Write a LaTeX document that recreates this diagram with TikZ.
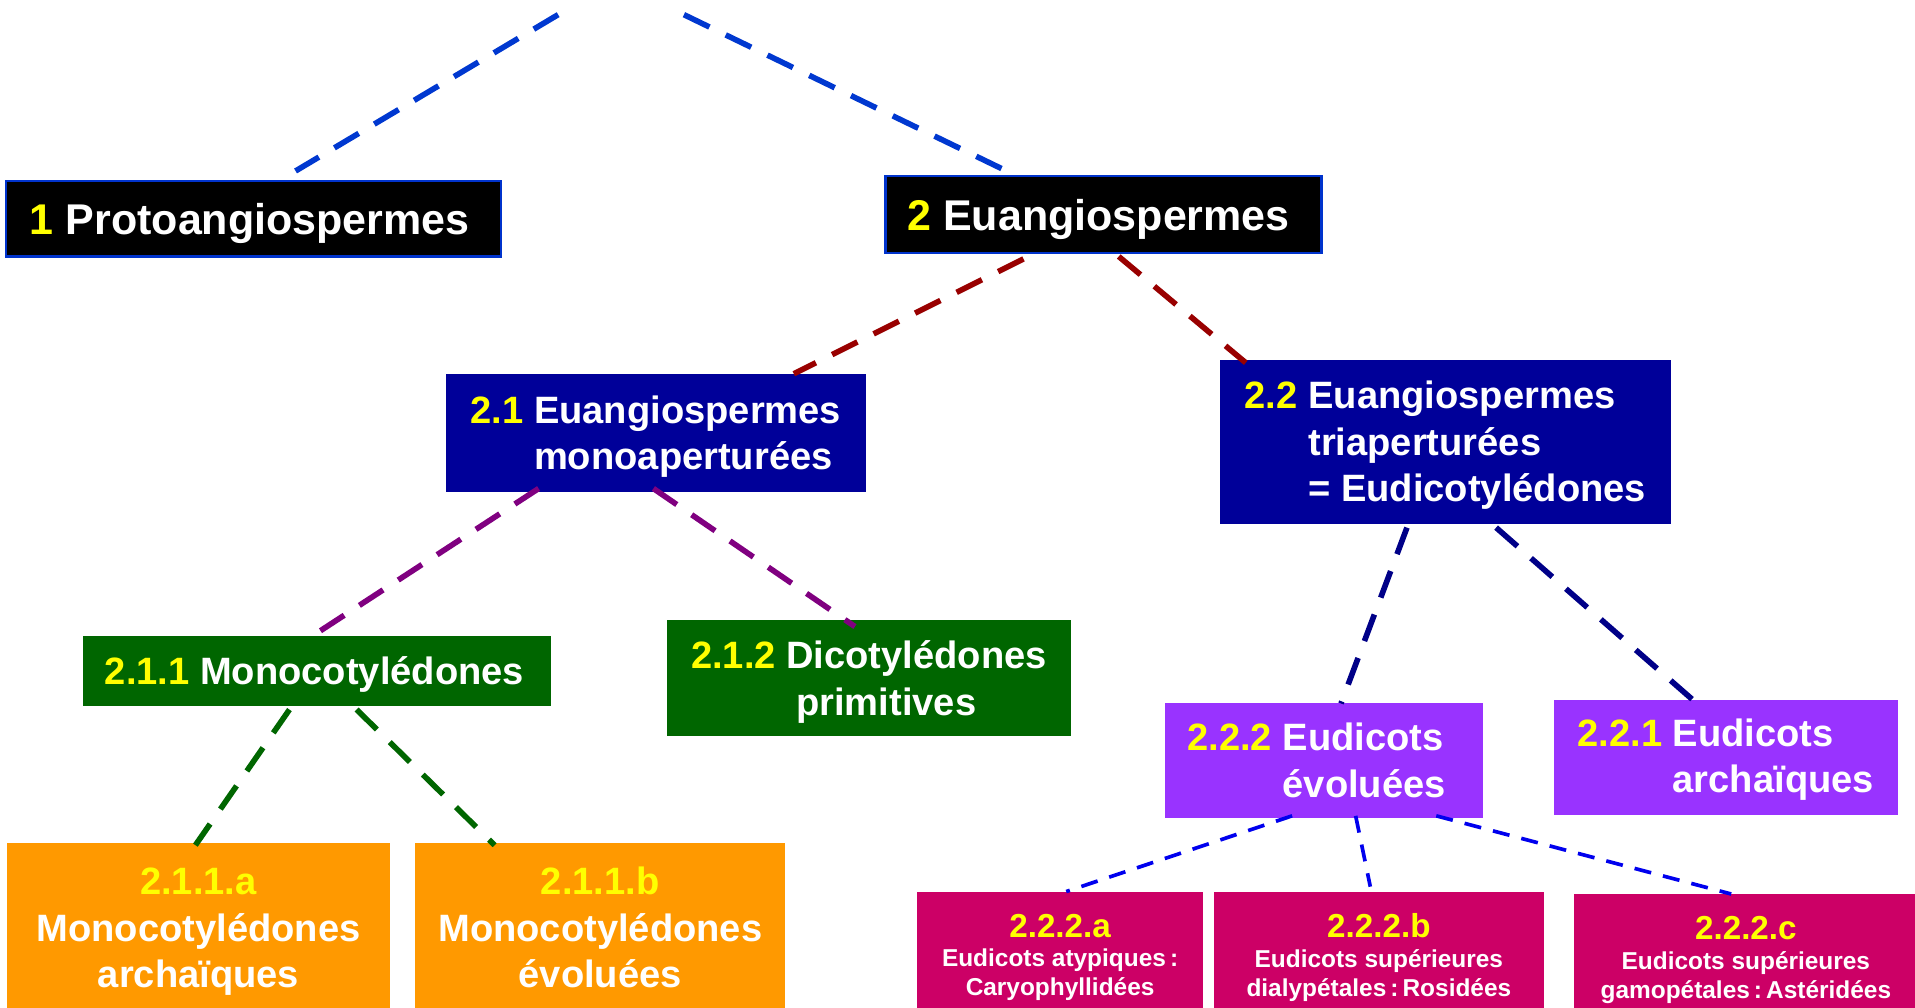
\documentclass[tikz,border=0pt]{standalone}
\usepackage{fontspec}
\setmainfont{Liberation Sans}
\usetikzlibrary{calc}
\definecolor{boxblue}{HTML}{0033CC}
\definecolor{navyfill}{HTML}{000099}
\definecolor{greenfill}{HTML}{006600}
\definecolor{purplefill}{HTML}{9933FF}
\definecolor{orangefill}{HTML}{FF9900}
\definecolor{crimsonfill}{HTML}{CC0066}
\definecolor{numyellow}{HTML}{FFFF00}
\definecolor{lineblue}{HTML}{0038D0}
\definecolor{linered}{HTML}{990000}
\definecolor{linepurple}{HTML}{800080}
\definecolor{linenavy}{HTML}{000088}
\definecolor{linegreen}{HTML}{006600}
\definecolor{linebright}{HTML}{0000EE}
\newcommand\FBig{\fontsize{17.6}{21}\selectfont}
\newcommand\FNorm{\fontsize{15.6}{19}\selectfont}
\newcommand\FLab{\fontsize{13.6}{16}\selectfont}
\newcommand\FSmall{\fontsize{10}{12}\selectfont}
\newcommand\Nb[1]{\textcolor{numyellow}{#1}}
\newcommand\Low[2]{\raisebox{-#1}[\height][\depth]{#2}}
\begin{document}
\begin{tikzpicture}[x=0.5pt,y=-0.5pt,
  box/.style={rectangle, inner sep=0pt, outer sep=0pt, text=white, font=\bfseries},
  topbox/.style={box, fill=black, draw=boxblue, line width=1pt, font=\bfseries\FBig},
  navybox/.style={box, fill=navyfill},
  greenbox/.style={box, fill=greenfill},
  purplebox/.style={box, fill=purplefill},
  orangebox/.style={box, fill=orangefill},
  crimsonbox/.style={box, fill=crimsonfill},
  conn/.style={dash pattern=on 11.6pt off 7.4pt, line width=2.3pt},
  thinconn/.style={dash pattern=on 7pt off 5pt, line width=1.5pt}]
\useasboundingbox (0,0) rectangle (1568,825);
\fill[white] (0,0) rectangle (1568,825);
\clip (0,0) rectangle (1568,825);

% level 1
\node[topbox, minimum width=202.5pt, minimum height=31pt] (b1) at (207.5,179)
  {\Low{2pt}{\Nb{1} Protoangiospermes}\hspace*{3pt}};
\node[topbox, minimum width=178.5pt, minimum height=31.5pt] (b2) at (903.5,175.5)
  {\Low{2pt}{\Nb{2} Euangiospermes}\hspace*{4pt}};

% level 2
\node[navybox, minimum width=172pt, minimum height=48.5pt] (b21) at (537,354.5)
  {\Low{1.8pt}{\FNorm\begin{tabular}{@{}l@{ }l@{}}\Nb{2.1} & Euangiospermes\\ & monoaperturées\end{tabular}}};
\node[navybox, minimum width=184.5pt, minimum height=67pt] (b22) at (1183.5,362)
  {\Low{1.5pt}{\FNorm\begin{tabular}{@{}l@{ }l@{}}\Nb{2.2} & Euangiospermes\\ & triaperturées\\ & = Eudicotylédones\end{tabular}}};

% level 3
\node[greenbox, minimum width=191.5pt, minimum height=28.5pt, font=\bfseries\FNorm] (b211) at (259.5,549.5)
  {\Low{1.5pt}{\Nb{2.1.1} Monocotylédones}\hspace*{2pt}};
\node[greenbox, minimum width=165.5pt, minimum height=47.5pt] (b212) at (711.5,555.5)
  {\Low{1.8pt}{\FNorm\begin{tabular}{@{}l@{ }l@{}}\Nb{2.1.2} & Dicotylédones\\ & \hspace*{4pt}primitives\end{tabular}}};
\node[purplebox, minimum width=130pt, minimum height=47pt] (b222) at (1084,623)
  {\Low{1.5pt}{\FNorm\begin{tabular}{@{}l@{ }l@{}}\Nb{2.2.2} & Eudicots\\ & évoluées\end{tabular}}\hspace*{6pt}};
\node[purplebox, minimum width=141pt, minimum height=47pt] (b221) at (1413,620)
  {\Low{1.3pt}{\FNorm\begin{tabular}{@{}l@{ }l@{}}\Nb{2.2.1} & Eudicots\\ & archaïques\end{tabular}}};

% level 4
\node[orangebox, minimum width=156.5pt, minimum height=71.4pt] (b211a) at (162.5,761.4)
  {\Low{0.8pt}{\FNorm\begin{tabular}{@{}c@{}}\Nb{2.1.1.a}\\ Monocotylédones\\ archaïques\end{tabular}}};
\node[orangebox, minimum width=151.5pt, minimum height=71.4pt] (b211b) at (491.5,761.4)
  {\Low{0.8pt}{\FNorm\begin{tabular}{@{}c@{}}\Nb{2.1.1.b}\\ Monocotylédones\\ évoluées\end{tabular}}};
\node[crimsonbox, minimum width=117pt, minimum height=54.4pt] (b222a) at (868,784.4)
  {\Low{0.6pt}{\FSmall\begin{tabular}{@{}c@{}}{\FLab\Nb{2.2.2.a}}\\ Eudicots atypiques\,:\\ Caryophyllidées\end{tabular}}};
\node[crimsonbox, minimum width=135pt, minimum height=54.4pt] (b222b) at (1129,784.4)
  {\Low{0.6pt}{\FSmall\begin{tabular}{@{}c@{}}{\FLab\Nb{2.2.2.b}}\\ Eudicots supérieures\\ dialypétales\,:\,Rosidées\end{tabular}}};
\node[crimsonbox, minimum width=141pt, minimum height=54.4pt] (b222c) at (1429.5,786.4)
  {\Low{0.6pt}{\FSmall\begin{tabular}{@{}c@{}}{\FLab\Nb{2.2.2.c}}\\ Eudicots supérieures\\ gamopétales\,:\,Astéridées\end{tabular}}};
\fill[crimsonfill] (b222c.north east) rectangle ++(20,120);

% free ends at the top
\coordinate (top1) at (457,12);
\coordinate (top2) at (560,12);

% connectors
\draw[conn, lineblue] (top1) -- ($(b1.north west)+(237,-8)$);
\draw[conn, lineblue] (top2) -- ($(b2.north west)+(95,-6)$);
\draw[conn, linered] ($(b2.south west)+(113,5)$) -- ($(b21.north west)+(285,0)$);
\draw[conn, linered] ($(b2.south west)+(191,3)$) -- ($(b22.north west)+(21,2)$);
\draw[conn, linepurple] ($(b21.south west)+(76,-3)$) -- ($(b211.north west)+(192,-3)$);
\draw[conn, linepurple] ($(b21.south west)+(170,-3)$) -- ($(b212.north west)+(154,5)$);
\draw[conn, linenavy] ($(b22.south west)+(153,3)$) -- ($(b222.north west)+(144,0)$);
\draw[conn, linenavy] ($(b22.south west)+(226,3)$) -- ($(b221.north west)+(114,0)$);
\draw[conn, linegreen] ($(b211.south west)+(169,3)$) -- ($(b211a.north west)+(154,2)$);
\draw[conn, linegreen] ($(b211.south west)+(224,3)$) -- ($(b211b.north west)+(65,2)$);
\draw[thinconn, linebright] ($(b222.south west)+(104,-2)$) -- ($(b222a.north west)+(122,0)$);
\draw[thinconn, linebright] ($(b222.south west)+(156,-2)$) -- ($(b222b.north west)+(128,-4)$);
\draw[thinconn, linebright] ($(b222.south west)+(222,-2)$) -- ($(b222c.north west)+(129,0)$);
\end{tikzpicture}
\end{document}
